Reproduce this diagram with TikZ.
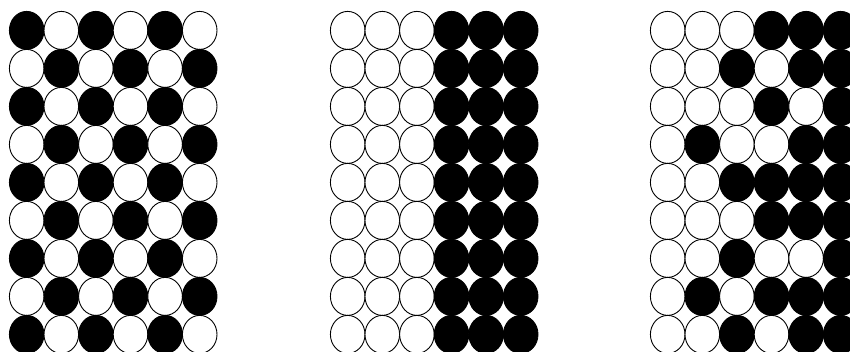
\documentclass[tikz,border=0pt]{standalone}
\colorlet{B}{black}
\colorlet{W}{white}
\begin{document}
\begin{tikzpicture}[x=1pt,y=-1pt,
  dotshape/.style={draw=black,line width=0.9pt}]
\useasboundingbox (0,0) rectangle (850,352);
\clip (0,0) rectangle (850,352);
\fill[white] (0,0) rectangle (850,352);
% grid 1: checkerboard
\foreach \j/\row in {0/{B,W,B,W,B,W},1/{W,B,W,B,W,B},2/{B,W,B,W,B,W},3/{W,B,W,B,W,B},4/{B,W,B,W,B,W},5/{W,B,W,B,W,B},6/{B,W,B,W,B,W},7/{W,B,W,B,W,B},8/{B,W,B,W,B,W}}
  \foreach \c [count=\i from 0] in \row
    \draw[dotshape,fill=\c] ({26.7+34.6*\i},{30.4+38*\j}) ellipse [x radius=17.3, y radius=19];
% grid 2: halves
\foreach \j in {0,...,8}
  \foreach \c [count=\i from 0] in {W,W,W,B,B,B}
    \draw[dotshape,fill=\c] ({347.7+34.6*\i},{30.4+38*\j}) ellipse [x radius=17.3, y radius=19];
% grid 3: irregular
\foreach \j/\row in {0/{W,W,W,B,B,B},1/{W,W,B,W,B,B},2/{W,W,W,B,W,B},3/{W,B,W,W,B,B},4/{W,W,B,B,B,B},5/{W,W,W,B,B,B},6/{W,W,B,W,W,B},7/{W,B,W,B,B,B},8/{W,W,B,W,B,B}}
  \foreach \c [count=\i from 0] in \row
    \draw[dotshape,fill=\c] ({667.7+34.6*\i},{30.4+38*\j}) ellipse [x radius=17.3, y radius=19];
\end{tikzpicture}
\end{document}
